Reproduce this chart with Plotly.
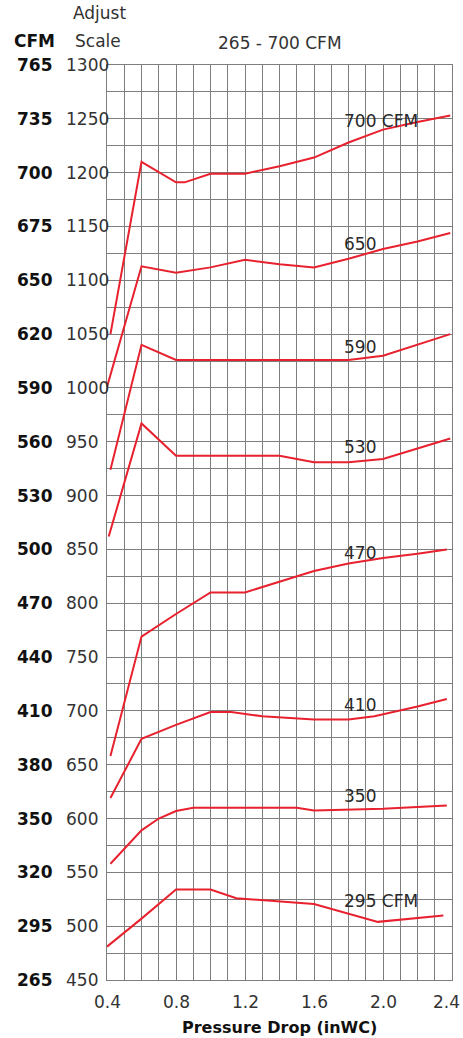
import plotly.graph_objects as go

# Pressure drop (inWC) breakpoints and adjust-scale readings for each airflow curve
x_700 = [0.42, 0.6, 0.8, 0.85, 1.0, 1.2, 1.4, 1.6, 1.8, 2.0, 2.2, 2.39]
y_700 = [1050, 1210, 1191, 1191, 1199, 1199, 1206, 1214, 1228, 1240, 1247, 1253]

x_650 = [0.4, 0.6, 0.8, 1.0, 1.2, 1.4, 1.6, 1.8, 2.0, 2.2, 2.39]
y_650 = [1001, 1113, 1107, 1112, 1119, 1115, 1112, 1120, 1129, 1136, 1144]

x_590 = [0.42, 0.6, 0.8, 1.8, 2.0, 2.2, 2.39]
y_590 = [924, 1040, 1026, 1026, 1030, 1040, 1050]

x_530 = [0.41, 0.6, 0.8, 1.4, 1.6, 1.8, 2.0, 2.2, 2.39]
y_530 = [862, 967, 937, 937, 931, 931, 934, 944, 953]

x_470 = [0.42, 0.6, 0.8, 1.0, 1.2, 1.4, 1.6, 1.8, 2.0, 2.2, 2.37]
y_470 = [658, 769, 790, 810, 810, 820, 830, 837, 842, 846, 850]

x_410 = [0.42, 0.6, 0.8, 1.0, 1.12, 1.3, 1.6, 1.8, 1.95, 2.2, 2.37]
y_410 = [619, 674, 687, 699, 699, 695, 692, 692, 695, 704, 711]

x_350 = [0.42, 0.5, 0.6, 0.7, 0.8, 0.9, 1.5, 1.6, 2.0, 2.37]
y_350 = [558, 572, 589, 600, 607, 610, 610, 607.5, 609, 612]

x_295 = [0.4, 0.6, 0.8, 1.0, 1.15, 1.45, 1.6, 1.97, 2.35]
y_295 = [481, 507, 534, 534, 526, 522, 520.5, 504, 510]

curves = [
    (x_700, y_700), (x_650, y_650), (x_590, y_590), (x_530, y_530),
    (x_470, y_470), (x_410, y_410), (x_350, y_350), (x_295, y_295),
]

# Curve labels and where they sit
curve_labels = ["700 CFM", "650", "590", "530", "470", "410", "350", "295 CFM"]
label_x = [1.76, 1.76, 1.76, 1.76, 1.76, 1.76, 1.76, 1.76]
label_y = [1248, 1134, 1038, 945, 847, 705.5, 621, 523]

# Axis scales
adjust_ticks = [1300, 1250, 1200, 1150, 1100, 1050, 1000, 950, 900,
                850, 800, 750, 700, 650, 600, 550, 500, 450]
cfm_ticks = [765, 735, 700, 675, 650, 620, 590, 560, 530,
             500, 470, 440, 410, 380, 350, 320, 295, 265]
x_ticks = [0.4, 0.8, 1.2, 1.6, 2.0, 2.4]
x_ticktext = ["0.4", "0.8", "1.2", "1.6", "2.0", "2.4"]

FONT = "DejaVu Sans"
RED = "#e8212e"
GRID = "#7e7e7e"

fig = go.Figure()
for xs, ys in curves:
    fig.add_trace(go.Scatter(x=xs, y=ys, mode="lines",
                             line=dict(color=RED, width=2),
                             hoverinfo="skip", showlegend=False))

annotations = []
for txt, lx, ly in zip(curve_labels, label_x, label_y):
    annotations.append(dict(x=lx, y=ly, xref="x", yref="y", text=txt,
                            showarrow=False, xanchor="left", yanchor="middle",
                            font=dict(family=FONT, size=17, color="#2a2a2a")))

# Two-column scale on the left: CFM (bold) and adjust scale
for cfm, adj in zip(cfm_ticks, adjust_ticks):
    annotations.append(dict(x=0, y=adj, xref="paper", yref="y", text=f"<b>{cfm}</b>",
                            showarrow=False, xanchor="left", yanchor="middle", xshift=-92,
                            font=dict(family=FONT, size=17, color="#111")))
    annotations.append(dict(x=0, y=adj, xref="paper", yref="y", text=str(adj),
                            showarrow=False, xanchor="left", yanchor="middle", xshift=-43,
                            font=dict(family=FONT, size=17, color="#333")))

# Pressure-drop tick labels under the grid; the last one is kept inside the page
for i, (xv, xt) in enumerate(zip(x_ticks, x_ticktext)):
    last = i == len(x_ticks) - 1
    annotations.append(dict(x=xv, y=0, xref="x", yref="paper", text=xt,
                            showarrow=False, yanchor="middle", yshift=-22,
                            xanchor="right" if last else "center",
                            xshift=10 if last else 0,
                            font=dict(family=FONT, size=17, color="#333")))

# Header texts
annotations += [
    dict(x=0, y=1, xref="paper", yref="paper", text="<b>CFM</b>", showarrow=False,
         xanchor="center", yanchor="middle", xshift=-73, yshift=24,
         font=dict(family=FONT, size=17, color="#111")),
    dict(x=0, y=1, xref="paper", yref="paper", text="Adjust", showarrow=False,
         xanchor="center", yanchor="middle", xshift=-8, yshift=52,
         font=dict(family=FONT, size=17, color="#333")),
    dict(x=0, y=1, xref="paper", yref="paper", text="Scale", showarrow=False,
         xanchor="center", yanchor="middle", xshift=-9, yshift=24,
         font=dict(family=FONT, size=17, color="#333")),
    dict(x=0.5, y=1, xref="paper", yref="paper", text="265 - 700 CFM", showarrow=False,
         xanchor="center", yanchor="middle", yshift=22,
         font=dict(family=FONT, size=17, color="#333")),
    dict(x=0.5, y=0, xref="paper", yref="paper", text="<b>Pressure Drop (inWC)</b>",
         showarrow=False, xanchor="center", yanchor="middle", yshift=-47,
         font=dict(family=FONT, size=16, color="#111")),
]

fig.update_layout(
    width=463, height=1038,
    margin=dict(l=107, r=11, t=65, b=58, autoexpand=False),
    paper_bgcolor="white", plot_bgcolor="white",
    annotations=annotations,
    xaxis=dict(range=[0.4, 2.4], tickvals=x_ticks, showticklabels=False,
               automargin=False,
               showgrid=True, gridcolor=GRID, gridwidth=1,
               minor=dict(dtick=0.1, tick0=0.4, showgrid=True, gridcolor=GRID, gridwidth=1),
               zeroline=False, showline=True, linecolor=GRID, mirror=True),
    yaxis=dict(range=[450, 1300], tickvals=adjust_ticks, showticklabels=False,
               automargin=False,
               showgrid=True, gridcolor=GRID, gridwidth=1,
               minor=dict(dtick=25, tick0=450, showgrid=True, gridcolor=GRID, gridwidth=1),
               zeroline=False, showline=True, linecolor=GRID, mirror=True),
)

fig.write_html("out.html")
